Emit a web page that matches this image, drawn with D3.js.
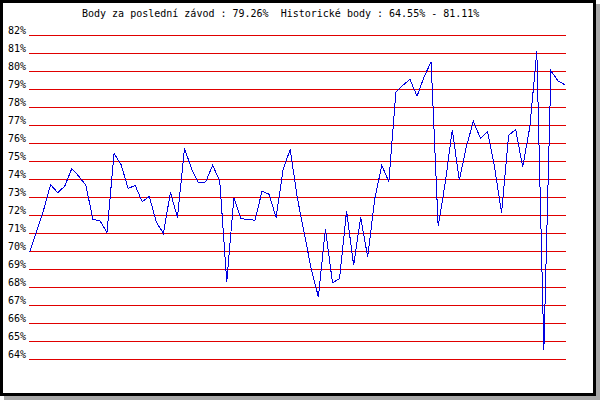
<!DOCTYPE html>
<html>
<head>
<meta charset="utf-8">
<script src="https://cdn.jsdelivr.net/npm/d3@7"></script>
<style>
  html, body { margin: 0; padding: 0; background: #fff; }
  text { font-family: "DejaVu Sans Mono", "Liberation Mono", monospace; }
</style>
</head>
<body>
<div id="chart"></div>
<script>
// body (procenta) za jednotlive zavody
const scores = [
    69.95, 71.1, 72.3, 73.72, 73.26, 73.63, 74.61, 74.18, 73.68, 71.78,
    71.70, 71.06, 75.44, 74.83, 73.5, 73.67, 72.76, 73.06, 71.64, 71.0,
    73.28, 71.89, 75.72, 74.6, 73.81, 73.87, 74.79, 73.92, 68.31, 72.98,
    71.83, 71.78, 71.74, 73.35, 73.18, 71.89, 74.56, 75.68, 73.0, 71.0,
    69.0, 67.48, 71.27, 68.26, 68.5, 72.24, 69.24, 71.89, 69.7, 72.93,
    74.79, 73.87, 78.87, 79.24, 79.56, 78.63, 79.7, 80.54, 71.4, 73.8,
    76.77, 73.96, 75.82, 77.24, 76.28, 76.68, 74.7, 72.13, 76.46, 76.77,
    74.7, 76.9, 81.11, 64.55, 80.04, 79.48, 79.26
];
const yTicks = [64, 65, 66, 67, 68, 69, 70, 71, 72, 73, 74, 75, 76, 77, 78, 79, 80, 81, 82];
const title = "Body za poslední závod : 79.26%  Historické body : 64.55% - 81.11%";

const width = 600;
const height = 400;

const svg = d3.select("#chart").append("svg")
    .attr("width", width)
    .attr("height", height);

// stin + ramecek
svg.append("rect")
    .attr("x", 4).attr("y", 4)
    .attr("width", 596).attr("height", 396)
    .attr("fill", "#a8a8a8");
svg.append("rect")
    .attr("x", 1.5).attr("y", 1.5)
    .attr("width", 593).attr("height", 393)
    .attr("fill", "#fff")
    .attr("stroke", "#000")
    .attr("stroke-width", 3);

const x = d3.scaleLinear()
    .domain([0, scores.length - 1])
    .range([29.5, 565]);
const y = d3.scaleLinear()
    .domain([64, 82])
    .range([359.5, 35.5]);

svg.append("text")
    .attr("x", 82)
    .attr("y", 17)
    .style("white-space", "pre")
    .attr("font-size", 10)
    .attr("fill", "#000")
    .text(title);

// mrizka
const grid = svg.append("g");
grid.selectAll("line")
    .data(yTicks)
    .join("line")
    .attr("x1", 29)
    .attr("x2", 566)
    .attr("y1", d => y(d))
    .attr("y2", d => y(d))
    .attr("stroke", "#e00000")
    .attr("stroke-width", 1)
    .attr("shape-rendering", "crispEdges");

grid.selectAll("text")
    .data(yTicks)
    .join("text")
    .attr("x", 26)
    .attr("y", d => y(d) - 2)
    .attr("text-anchor", "end")
    .attr("font-size", 10)
    .attr("fill", "#000")
    .text(d => d + "%");

const line = d3.line()
    .x((d, i) => x(i))
    .y(d => y(d));

svg.append("path")
    .datum(scores)
    .attr("d", line)
    .attr("fill", "none")
    .attr("stroke", "#0000e0")
    .attr("stroke-width", 1)
    .attr("shape-rendering", "crispEdges");
</script>
</body>
</html>
